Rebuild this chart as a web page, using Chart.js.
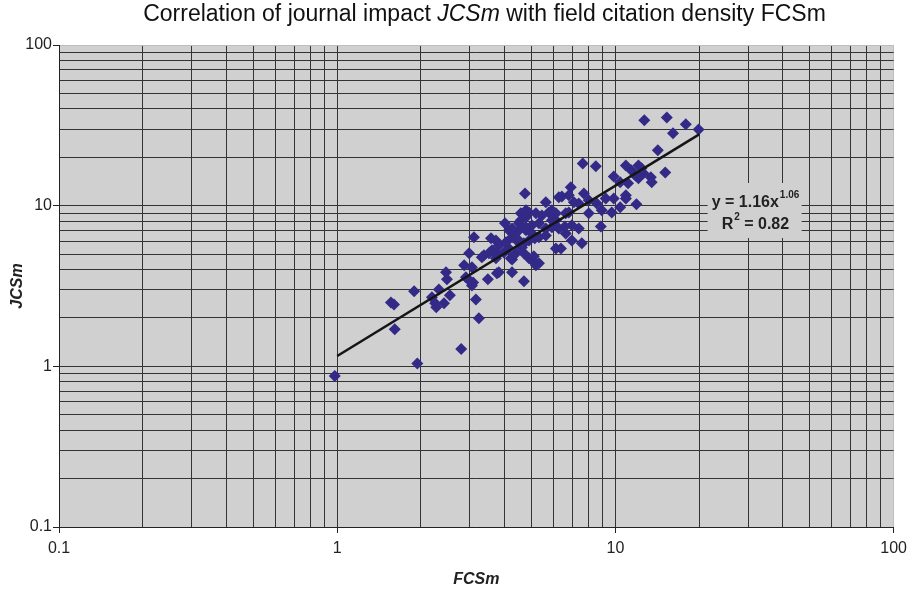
<!DOCTYPE html>
<html>
<head>
<meta charset="utf-8">
<script src="https://cdn.jsdelivr.net/npm/chart.js"></script>
<style>
    body { margin: 0; background: #fff; }
    #wrap { position: relative; width: 913px; height: 589px; }
    #title {
        position: absolute; top: 0; left: 56px; width: 857px;
        text-align: center; line-height: 26px; color: #111;
        font: 23px "Liberation Sans", Arial, sans-serif;
    }
</style>
</head>
<body>
<div id="wrap">
    <div id="title">Correlation of journal impact <i>JCSm</i> with field citation density FCSm</div>
    <canvas id="corrChart" width="913" height="589"></canvas>
</div>
<script>
    // journals: field citation density vs journal impact
    const fcsm = [
        0.98, 1.94, 2.79, 1.61, 1.56, 1.60, 1.89, 2.46, 2.48, 2.32,
        2.54, 2.25, 2.42, 2.19, 2.27, 3.15, 3.23, 3.48, 2.86, 3.05,
        2.98, 3.08, 3.31, 3.75, 3.10, 2.90, 3.05, 2.98,
        3.57, 3.72, 3.81, 4.04, 4.25, 4.50, 4.69, 3.60, 3.75, 3.51,
        3.72, 3.97, 4.21, 4.69, 4.89, 5.18, 5.31, 3.81, 4.25, 4.69,
        4.25, 5.01, 4.77, 5.01, 4.89, 4.61, 4.14, 4.32, 4.50, 4.42,
        4.01, 4.50, 4.77, 5.01, 5.31, 5.62, 4.57, 4.89, 5.18, 5.44,
        5.76, 6.11, 6.63, 4.73, 5.62, 5.31, 5.62, 6.11, 6.37, 6.97,
        6.26, 5.91, 5.91, 6.11, 5.91, 4.77, 4.57,
        3.37, 4.77, 6.26, 7.38, 4.14, 4.39, 5.09, 6.58, 5.13, 4.25,
        6.91, 6.42, 7.09, 6.80, 7.70, 8.02, 8.57, 9.23, 9.86, 10.9,
        11.9, 10.4, 9.70, 8.93, 8.02, 6.80, 6.97, 7.38, 7.57, 6.63,
        8.86, 7.63, 8.50,
        12.7, 15.3, 17.9, 16.1, 19.9, 14.2, 15.1, 10.9, 11.4, 12.1,
        12.4, 11.8, 12.6, 13.4, 13.5, 11.1, 9.86, 10.4, 10.9, 12.1
    ];
    const jcsm = [
        0.87, 1.04, 1.28, 1.70, 2.50, 2.43, 2.93, 3.85, 3.48, 3.01,
        2.77, 2.47, 2.47, 2.69, 2.33, 2.61, 1.99, 3.48, 4.25, 4.13,
        5.05, 3.33, 4.77, 3.79, 6.35, 3.58, 3.19, 3.43,
        6.26, 6.08, 5.66, 5.91, 6.35, 6.08, 5.83, 5.27, 5.05, 5.05,
        4.70, 5.12, 4.70, 5.05, 4.70, 4.25, 4.38, 3.85, 3.85, 3.38,
        4.63, 4.57, 7.02, 6.72, 6.08, 5.50, 7.02, 6.72, 7.02, 6.08,
        7.76, 7.76, 7.33, 7.54, 7.76, 7.22, 8.96, 9.08, 8.96, 8.70,
        9.08, 8.96, 8.96, 11.9, 10.5, 6.35, 6.53, 5.42, 5.42, 6.08,
        7.22, 8.10, 7.33, 8.10, 9.35, 8.46, 8.10,
        4.91, 9.35, 11.3, 10.3, 5.42, 5.05, 4.84, 7.43, 6.26, 7.22,
        13.0, 11.4, 10.5, 11.6, 11.9, 10.8, 10.3, 11.1, 11.1, 11.1,
        10.2, 9.76, 9.08, 9.35, 8.96, 9.08, 7.54, 7.22, 5.83, 6.72,
        7.43, 18.3, 17.6,
        34.0, 35.4, 32.1, 28.2, 29.8, 22.1, 16.1, 17.8, 16.6, 17.8,
        17.1, 15.4, 15.9, 15.0, 14.0, 13.8, 15.2, 14.0, 11.6, 14.8
    ];

    // power trend line y = 1.16x^1.06, ends
    const trendX = [1, 20];
    const trendY = [1.16, 27.8];

    // labelled decades on both axes
    const majorTicks = [0.1, 1, 10, 100];

    const gridVals = [];
    for (let i = 0; i < majorTicks.length - 1; i++) {
        for (let m = 1; m <= 9; m++) {
            gridVals.push(m === 1 ? majorTicks[i] : m * majorTicks[i]);
        }
    }
    gridVals.push(majorTicks[majorTicks.length - 1]);

    const fontFamily = '"Liberation Sans", Arial, sans-serif';

    const plotBackground = {
        id: 'plotBackground',
        beforeDraw(chart) {
            const { ctx, chartArea: a } = chart;
            ctx.save();
            ctx.fillStyle = '#d0d0d0';
            ctx.fillRect(a.left, a.top, a.right - a.left, a.bottom - a.top);
            ctx.restore();
        }
    };

    const equationBox = {
        id: 'equationBox',
        afterDatasetsDraw(chart) {
            const { ctx, chartArea: a } = chart;
            const bx = a.right - 186, by = a.top + 138;
            ctx.save();
            ctx.fillStyle = '#d0d0d0';
            ctx.fillRect(bx, by, 94, 55);
            ctx.fillStyle = '#222';
            ctx.textBaseline = 'alphabetic';
            ctx.textAlign = 'left';

            ctx.font = 'bold 16px ' + fontFamily;
            let s = 'y = 1.16x';
            ctx.fillText(s, bx + 4, by + 24);
            let w = ctx.measureText(s).width;
            ctx.font = 'bold 10px ' + fontFamily;
            ctx.fillText('1.06', bx + 4 + w + 1, by + 15);

            ctx.font = 'bold 16px ' + fontFamily;
            ctx.fillText('R', bx + 14, by + 46);
            w = ctx.measureText('R').width;
            ctx.font = 'bold 10px ' + fontFamily;
            ctx.fillText('2', bx + 14 + w + 1, by + 37);
            const w2 = ctx.measureText('2').width;
            ctx.font = 'bold 16px ' + fontFamily;
            ctx.fillText(' = 0.82', bx + 14 + w + w2 + 1, by + 46);
            ctx.restore();
        }
    };

    const gridColor = (c) => (c.tick && c.tick.value === 100) ? '#bdbdbd' : '#333';
    const tickColor = (c) => (c.tick && majorTicks.includes(c.tick.value)) ? '#222' : 'rgba(0,0,0,0)';
    const tickLabel = (v) => majorTicks.includes(v) ? String(v) : '';

    new Chart('corrChart', {
        type: 'scatter',
        data: {
            datasets: [
                {
                    label: 'Power trend',
                    data: trendX.map((x, i) => ({ x: x, y: trendY[i] })),
                    showLine: true,
                    borderColor: '#151515',
                    borderWidth: 2.5,
                    pointRadius: 0,
                    order: 0,
                },
                {
                    label: 'Journals',
                    data: fcsm.map((x, i) => ({ x: x, y: jcsm[i] })),
                    pointStyle: 'rectRot',
                    pointRadius: 6,
                    backgroundColor: '#332a88',
                    borderColor: '#332a88',
                    borderWidth: 0,
                    order: 1,
                }
            ]
        },
        options: {
            responsive: false,
            animation: false,
            devicePixelRatio: 1,
            layout: { padding: { top: 45, right: 18, left: 0, bottom: 0 } },
            plugins: {
                legend: { display: false },
                tooltip: { enabled: false },
            },
            scales: {
                x: {
                    type: 'logarithmic',
                    min: 0.1,
                    max: 100,
                    afterBuildTicks: (s) => { s.ticks = gridVals.map(v => ({ value: v })); },
                    afterFit: (s) => { s.height = 62; },
                    ticks: {
                        autoSkip: false,
                        maxRotation: 0,
                        padding: 6,
                        color: '#222',
                        font: { size: 16, family: fontFamily },
                        callback: tickLabel,
                    },
                    grid: { color: gridColor, tickColor: tickColor, tickLength: 6, lineWidth: 1 },
                    border: { color: '#222', width: 1 },
                    title: {
                        display: true,
                        text: 'FCSm',
                        color: '#222',
                        font: { size: 16, family: fontFamily, weight: 'bold', style: 'italic' },
                        padding: { top: 0, bottom: 0 },
                    },
                },
                y: {
                    type: 'logarithmic',
                    min: 0.1,
                    max: 100,
                    afterBuildTicks: (s) => { s.ticks = gridVals.map(v => ({ value: v })); },
                    afterFit: (s) => { s.width = 59; },
                    ticks: {
                        autoSkip: false,
                        padding: 1,
                        color: '#222',
                        font: { size: 16, family: fontFamily },
                        callback: tickLabel,
                    },
                    grid: { color: gridColor, tickColor: tickColor, tickLength: 6, lineWidth: 1 },
                    border: { color: '#222', width: 1 },
                    title: {
                        display: true,
                        text: 'JCSm',
                        color: '#222',
                        font: { size: 16, family: fontFamily, weight: 'bold', style: 'italic' },
                        padding: { top: 8, bottom: 0 },
                    },
                },
            },
        },
        plugins: [plotBackground, equationBox],
    });
</script>
</body>
</html>
